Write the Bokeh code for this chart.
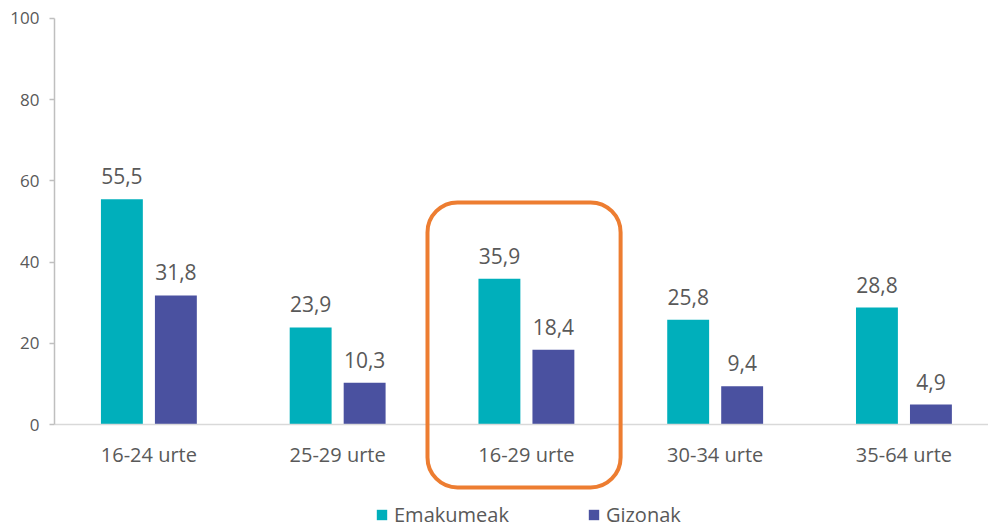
from bokeh.plotting import figure
from bokeh.models import (Range1d, LinearAxis, FixedTicker, ColumnDataSource,
                          BoxAnnotation, Legend, LegendItem)
from bokeh.core.properties import value
from bokeh.embed import file_html
from bokeh.resources import INLINE

categories = ["16-24 urte", "25-29 urte", "16-29 urte", "30-34 urte", "35-64 urte"]
emakumeak = [55.5, 23.9, 35.9, 25.8, 28.8]
gizonak = [31.8, 10.3, 18.4, 9.4, 4.9]
y_ticks = [0, 20, 40, 60, 80, 100]
highlight = "16-29 urte"

FONT = "Open Sans"
TXT = "#595959"
TEAL = "#00AFBB"
INDIGO = "#4A51A0"

centers = [i + 0.5 for i in range(len(categories))]
off = 0.143
bw = 0.222

def fmt(v):
    return f"{v:.1f}".replace(".", ",")

src_e = ColumnDataSource(dict(x=[c - off for c in centers], y=emakumeak,
                              lbl=[fmt(v) for v in emakumeak]))
src_g = ColumnDataSource(dict(x=[c + off for c in centers], y=gizonak,
                              lbl=[fmt(v) for v in gizonak]))

p = figure(width=988, height=531, output_backend="svg", toolbar_location=None,
           x_range=Range1d(0, 4.948), y_range=Range1d(-26.35, 104.43),
           x_axis_location=None, y_axis_location=None,
           min_border_left=54, min_border_right=0, min_border_top=0, min_border_bottom=0)
p.outline_line_color = None
p.grid.visible = False

# y axis
ya = LinearAxis(bounds=(0, 100), ticker=FixedTicker(ticks=y_ticks))
ya.axis_line_color = "#BFBFBF"
ya.axis_line_width = 1.5
ya.major_tick_line_color = "#BFBFBF"
ya.major_tick_line_width = 1.5
ya.major_tick_out = 5
ya.major_tick_in = 0
ya.minor_tick_line_color = None
ya.major_label_standoff = 10
ya.major_label_text_font = FONT
ya.major_label_text_font_size = "17px"
ya.major_label_text_color = TXT
p.add_layout(ya, "left")

# x axis at y=0
xa = LinearAxis(fixed_location=0, ticker=FixedTicker(ticks=centers))
xa.major_label_overrides = {c: cat for c, cat in zip(centers, categories)}
xa.axis_line_color = "#D9D9D9"
xa.axis_line_width = 1.5
xa.major_tick_line_color = None
xa.minor_tick_line_color = None
xa.major_tick_out = 0
xa.major_tick_in = 0
xa.major_label_standoff = 16
xa.major_label_text_font = FONT
xa.major_label_text_font_size = "20px"
xa.major_label_text_color = TXT
p.add_layout(xa, "below")

r_e = p.vbar(x="x", top="y", bottom=0, width=bw, source=src_e, fill_color=TEAL, line_color=None)
r_g = p.vbar(x="x", top="y", bottom=0, width=bw, source=src_g, fill_color=INDIGO, line_color=None)

for src in (src_e, src_g):
    p.text(x="x", y="y", text="lbl", source=src, text_align="center",
           text_baseline="alphabetic", y_offset=-23, text_font=value(FONT),
           text_font_size="21px", text_color=TXT)

hi = categories.index(highlight)
box = BoxAnnotation(left=hi - 0.024, right=hi + 0.999, top=54.7, bottom=-15.5,
                    fill_alpha=0, line_color="#ED7D31", line_alpha=1.0, line_width=4,
                    border_radius=30)
p.add_layout(box)

legend = Legend(items=[LegendItem(label="Emakumeak", renderers=[r_e]),
                       LegendItem(label="Gizonak", renderers=[r_g])],
                orientation="horizontal", location=(321, 3), padding=0, margin=0,
                spacing=78, label_standoff=6, glyph_width=13, glyph_height=13,
                label_text_font=FONT, label_text_font_size="20px",
                label_text_color=TXT, background_fill_alpha=0, border_line_color=None)
p.add_layout(legend, "center")

open("out.html", "w").write(file_html(p, INLINE))
